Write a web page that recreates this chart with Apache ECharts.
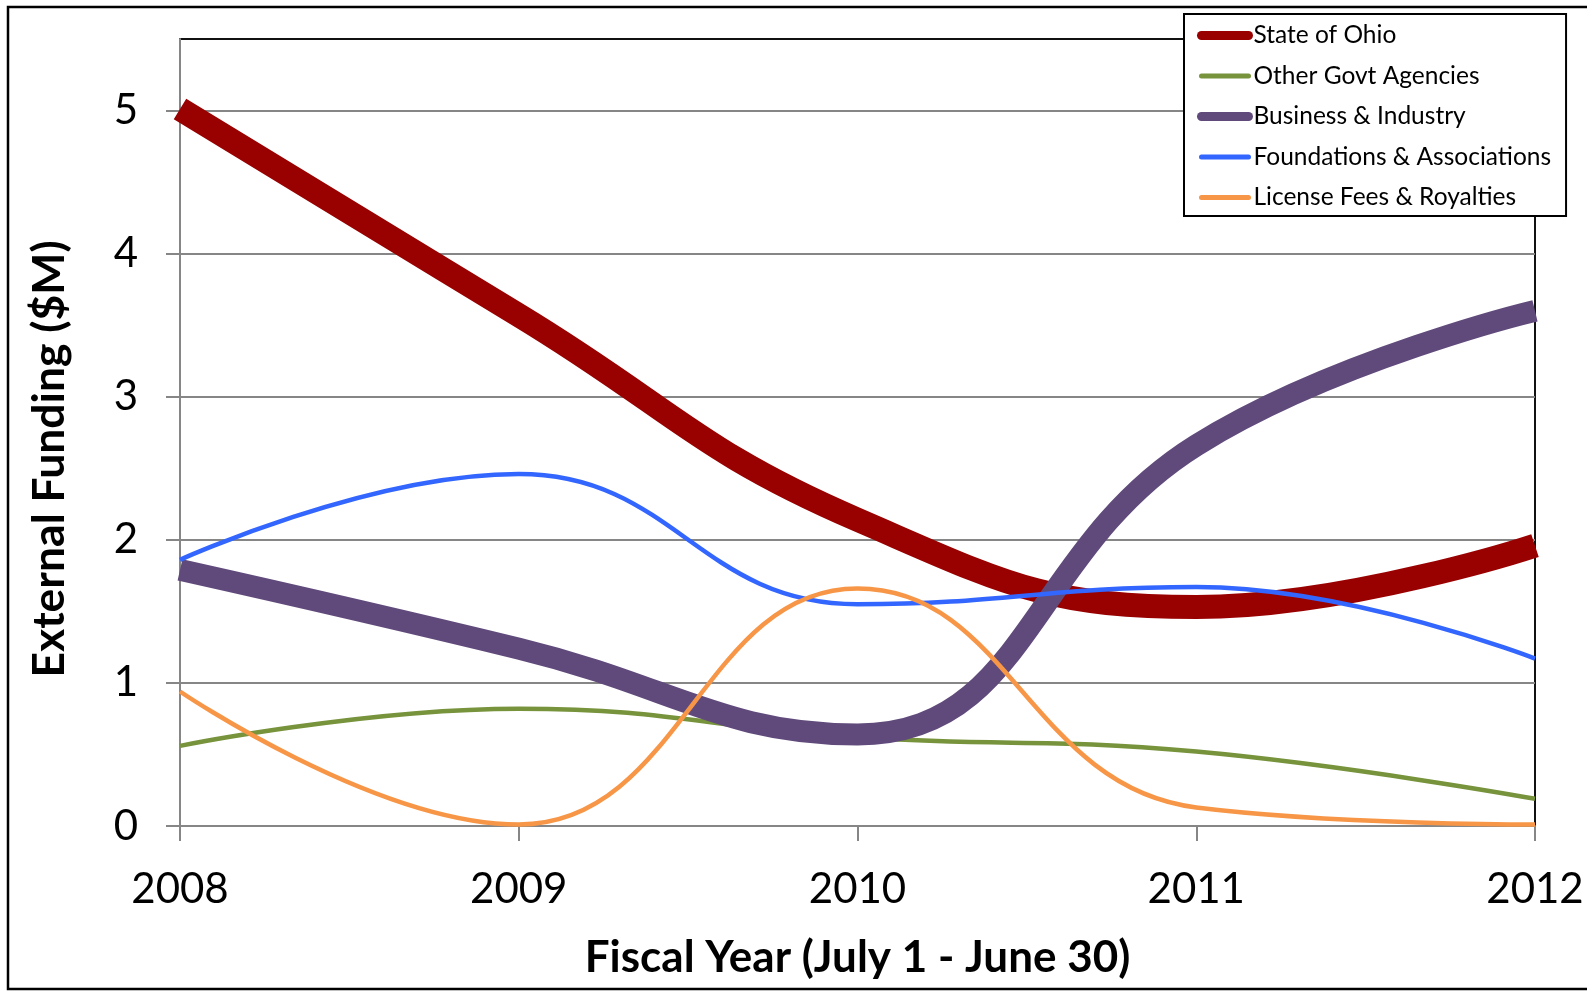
<!DOCTYPE html>
<html>
<head>
<meta charset="utf-8">
<script src="https://cdn.jsdelivr.net/npm/echarts@6/dist/echarts.min.js"></script>
<style>html,body{margin:0;padding:0;background:#fff;}#c{width:1587px;height:991px;}</style>
</head>
<body>
<div id="c"></div>
<script>
const years = ['2008', '2009', '2010', '2011', '2012'];
const yTicks = [0, 1, 2, 3, 4, 5];
const stateOfOhio = [5.01, 3.57, 2.14, 1.53, 1.96];
const otherGovt = [0.56, 0.82, 0.62, 0.52, 0.19];
const businessIndustry = [1.79, 1.24, 0.64, 2.66, 3.6];
const foundations = [1.86, 2.46, 1.55, 1.67, 1.17];
const licenseFees = [0.94, 0.01, 1.66, 0.13, 0.01];

const FONT = 'Lato';
const chart = echarts.init(document.getElementById('c'), null, {renderer: 'canvas'});

function mk(name, data, color, width) {
  return {
    name: name, type: 'line', data: data, smooth: 0.45, symbol: 'none',
    lineStyle: {color: color, width: width, cap: 'butt', join: 'round'},
    itemStyle: {color: color},
    emphasis: {disabled: true}
  };
}
function legendItem(name, w) {
  return {name: name, lineStyle: {width: w, cap: 'round'}, itemStyle: {opacity: 0}};
}

chart.setOption({
  animation: false,
  backgroundColor: '#fff',
  textStyle: {fontFamily: FONT},
  graphic: [{
    type: 'rect', silent: true, z: -10,
    shape: {x: 8, y: 7, width: 1600, height: 982},
    style: {fill: 'none', stroke: '#000', lineWidth: 2.5}
  }],
  grid: {left: 180, right: 52, top: 39, bottom: 165, show: true, borderColor: '#111', borderWidth: 2, backgroundColor: 'transparent'},
  legend: {
    orient: 'vertical', left: 1184, top: 14,
    padding: [9, 15, 6, 13], itemGap: 15.5, itemWidth: 47, itemHeight: 20,
    borderColor: '#000', borderWidth: 2, backgroundColor: '#fff',
    textStyle: {fontFamily: FONT, fontSize: 24.5, color: '#000'},
    data: [
      legendItem('State of Ohio', 9),
      legendItem('Other Govt Agencies', 5),
      legendItem('Business & Industry', 9),
      legendItem('Foundations & Associations', 5),
      legendItem('License Fees & Royalties', 5)
    ]
  },
  xAxis: {
    type: 'category', data: years, boundaryGap: false,
    name: 'Fiscal Year (July 1 - June 30)', nameLocation: 'middle', nameGap: 110,
    nameTextStyle: {fontFamily: FONT, fontSize: 44, fontWeight: 'bold', color: '#000'},
    axisLine: {lineStyle: {color: '#868686', width: 2}},
    axisTick: {show: true, length: 15, lineStyle: {color: '#868686', width: 2}},
    axisLabel: {fontFamily: FONT, fontSize: 42, color: '#000', margin: 42},
    splitLine: {show: false}
  },
  yAxis: {
    type: 'value', min: 0, max: 5.5, interval: 1,
    name: 'External Funding ($M)', nameLocation: 'middle', nameGap: 108, nameRotate: 90,
    nameTextStyle: {fontFamily: FONT, fontSize: 44.5, fontWeight: 'bold', color: '#000', padding: [0, 53, 0, 0]},
    axisLine: {show: true, lineStyle: {color: '#868686', width: 2}},
    axisTick: {show: true, length: 14, customValues: yTicks, lineStyle: {color: '#868686', width: 2}},
    axisLabel: {fontFamily: FONT, fontSize: 42, color: '#000', margin: 42, customValues: yTicks},
    splitLine: {show: true, lineStyle: {color: '#868686', width: 2}}
  },
  series: [
    mk('State of Ohio', stateOfOhio, '#990000', 24),
    mk('Other Govt Agencies', otherGovt, '#77933C', 4.5),
    mk('Business & Industry', businessIndustry, '#604A7B', 22),
    mk('Foundations & Associations', foundations, '#3366FF', 4.5),
    mk('License Fees & Royalties', licenseFees, '#F79646', 4.5)
  ]
});
</script>
</body>
</html>
